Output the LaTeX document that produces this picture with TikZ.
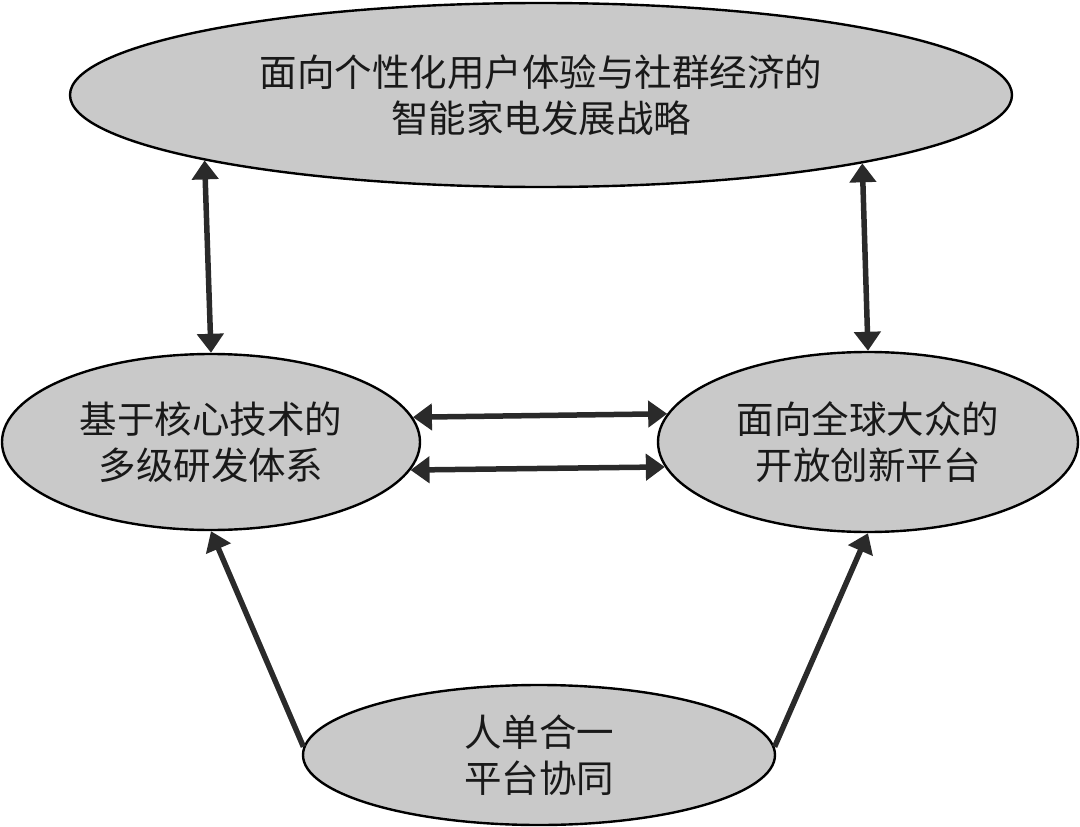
\documentclass[tikz,border=0pt]{standalone}
\usepackage{fontspec}
\newfontfamily\cjk{Noto Sans CJK SC}
\usetikzlibrary{shapes.geometric,arrows.meta}
\definecolor{ellfill}{HTML}{C9C9C9}
\definecolor{arrowcol}{HTML}{2A2A2A}
\tikzset{
  ell/.style={ellipse, draw=black, line width=2.4pt, fill=ellfill, inner sep=0pt,
    align=center, font=\cjk\fontsize{37.5}{46}\selectfont, text=black!90},
  conn/.style={draw=arrowcol, line width=5.5pt},
  tip/.style={-{Triangle[length=19pt,width=26pt]}},
  dtip/.style={{Triangle[length=19pt,width=26pt]}-{Triangle[length=19pt,width=26pt]}},
}
\begin{document}
\begin{tikzpicture}[x=1pt,y=-1pt]
\useasboundingbox (0,0) rectangle (1080,827);
\node[ell, minimum width=942pt, minimum height=184pt] (top) at (541,95)
  {面向个性化用户体验与社群经济的\\智能家电发展战略};
\node[ell, minimum width=418pt, minimum height=176pt] (left) at (211,442)
  {基于核心技术的\\多级研发体系};
\node[ell, minimum width=420pt, minimum height=180pt] (right) at (868,442)
  {面向全球大众的\\开放创新平台};
\node[ell, minimum width=472pt, minimum height=140pt] (bot) at (539,755)
  {人单合一\\平台协同};
\draw[conn, dtip] (top.191.3) -- (left.north);
\draw[conn, dtip] (top.348) -- (right.north);
\draw[conn, dtip] (left.7.1) -- (right.172.9);
\draw[conn, dtip] (left.352.3) -- (right.187.7);
\draw[conn, tip] (bot.178) -- (left.south);
\draw[conn, tip] (bot.2) -- (right.south);
\end{tikzpicture}
\end{document}
